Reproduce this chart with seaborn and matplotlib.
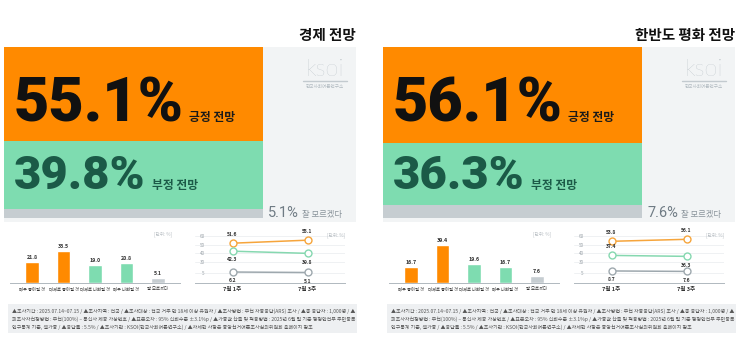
import numpy as np
import pandas as pd
import matplotlib
matplotlib.use("Agg")
import matplotlib.pyplot as plt
import seaborn as sns
from matplotlib.patches import Rectangle
from matplotlib.lines import Line2D

# ---------------- data ----------------
panel_titles = ["경제 전망", "한반도 평화 전망"]
summary_labels = ["긍정 전망", "부정 전망", "잘 모르겠다"]
summary_left = [55.1, 39.8, 5.1]
summary_right = [56.1, 36.3, 7.6]

bar_categories = ["매우 좋아질 것", "대체로 좋아질 것", "대체로 나빠질 것", "매우 나빠질 것", "잘 모르겠다"]
bars_left = [21.8, 33.5, 19.0, 20.8, 5.1]
bars_right = [16.7, 39.4, 19.6, 16.7, 7.6]

weeks = ["7월 1주", "7월 3주"]
trend_left_pos = [51.6, 55.1]
trend_left_neg = [42.3, 39.8]
trend_left_dk = [6.2, 5.1]
trend_right_pos = [53.8, 56.1]
trend_right_neg = [37.4, 36.3]
trend_right_dk = [8.7, 7.6]
trend_yticks = [5, 30, 40, 50, 60]

unit_label = "[단위: %]"
logo_text = "ksoi"
logo_sub = "한국사회여론연구소"
footnote_lines = [
    "▲조사기간 : 2025.07.14~07.15 / ▲조사지역 : 전국 / ▲조사대상 : 전국 거주 만 18세 이상 유권자 / ▲조사방법 : 무선 자동응답(ARS) 조사 / ▲총 응답자 : 1,000명 / ▲",
    "피조사자선정방법 : 무선(100%) – 통신사 제공 가상번호 / ▲표본오차 : 95% 신뢰수준 ±3.1%p / ▲가중값 산출 및 적용방법 : 2025년 6월 말 기준 행정안전부 주민등록",
    "인구통계 기준, 셀가중 / ▲응답률 : 5.5% / ▲조사기관 : KSOI(한국사회여론연구소) / ▲자세한 사항은 중앙선거여론조사심의위원회 홈페이지 참조",
]

# ---------------- style ----------------
ORANGE = "#ff8a00"
GREEN = "#7edcb0"
GRAY = "#c6cdd1"
DKGREEN = "#1b5a47"
LINE_ORANGE = "#f6a53c"
LINE_GREEN = "#86d8b0"
LINE_GRAY = "#9ea8ae"
PANEL_BG = "#f2f4f5"
NOTE_BG = "#eef0f2"

sns.set_theme(style="white")
plt.rcParams["font.family"] = ["Noto Sans CJK KR", "DejaVu Sans"]
KR = ["Noto Sans CJK KR", "DejaVu Sans"]
NUM = ["Roboto", "Noto Sans CJK KR", "DejaVu Sans"]

W, H = 750, 343
fig = plt.figure(figsize=(7.5, 3.43), dpi=100)
fig.patch.set_facecolor("white")
renderer = fig.canvas.get_renderer()


def px_ax(x0, y0, x1, y1):
    return fig.add_axes([x0 / W, 1 - y1 / H, (x1 - x0) / W, (y1 - y0) / H])


def fx(x):
    return x / W


def fy(y):
    return 1 - y / H


def fwd(v):
    v = np.asarray(v, dtype=float)
    return np.where(v >= 30, v, 30 - (30 - v) * 0.5)


def inv(t):
    t = np.asarray(t, dtype=float)
    return np.where(t >= 30, t, 30 - (30 - t) / 0.5)


panels = [
    dict(ox=0, title=panel_titles[0], summary=summary_left, bars=bars_left,
         trend=[trend_left_pos, trend_left_neg, trend_left_dk],
         sides=[[1, 1], [-1, -1], [-1, -1]]),
    dict(ox=379, title=panel_titles[1], summary=summary_right, bars=bars_right,
         trend=[trend_right_pos, trend_right_neg, trend_right_dk],
         sides=[[1, 1], [1, -1], [-1, -1]]),
]

for p in panels:
    ox = p["ox"]
    # title
    fig.text(fx(356 + ox), fy(35), p["title"], ha="right", va="center",
             fontsize=10.5, fontweight="bold", color="#111111", family=KR)
    # panel background
    fig.add_artist(Rectangle((fx(4 + ox), fy(222)), 352 / W, (222 - 47) / H,
                             transform=fig.transFigure, facecolor=PANEL_BG,
                             edgecolor="none", zorder=0))
    # logo
    fig.text(fx(325 + ox), fy(70), logo_text, ha="center", va="center",
             fontsize=17, color="#b3bcc2", family=["Lato", "DejaVu Sans"],
             fontweight="light")
    fig.add_artist(Line2D([fx(303 + ox), fx(347 + ox)], [fy(81), fy(81)],
                          transform=fig.transFigure, color="#c3cacf", lw=1))
    fig.text(fx(325 + ox), fy(87), logo_sub, ha="center", va="center",
             fontsize=3.3, color="#b3bcc2", family=KR)

    # stacked summary boxes
    ax = px_ax(4 + ox, 47, 263 + ox, 218)
    cum = 0
    for v, c in zip(p["summary"], [ORANGE, GREEN, GRAY]):
        ax.bar(0, v, bottom=cum, width=1, color=c, edgecolor="none")
        cum += v
    ax.set_xlim(-0.5, 0.5)
    ax.set_ylim(100, 0)
    ax.axis("off")

    s_pos, s_neg, s_dk = p["summary"]
    t1 = fig.text(fx(14 + ox), fy(121), f"{s_pos:.1f}%", ha="left", va="baseline",
                  fontsize=44, fontweight="heavy", color="#111111", family=NUM)
    bb = t1.get_window_extent(renderer=renderer)
    fig.text((bb.x1 + 5) / W, fy(121), summary_labels[0], ha="left", va="baseline",
             fontsize=8.5, fontweight="bold", color="#1a1a1a", family=KR)
    t2 = fig.text(fx(14 + ox), fy(189), f"{s_neg:.1f}%", ha="left", va="baseline",
                  fontsize=34, fontweight="heavy", color=DKGREEN, family=NUM)
    bb = t2.get_window_extent(renderer=renderer)
    fig.text((bb.x1 + 6) / W, fy(189), summary_labels[1], ha="left", va="baseline",
             fontsize=8.5, fontweight="bold", color=DKGREEN, family=KR)
    t3 = fig.text(fx(268 + ox), fy(217), f"{s_dk:.1f}%", ha="left", va="baseline",
                  fontsize=10.5, color="#6f7b84", family=NUM)
    bb = t3.get_window_extent(renderer=renderer)
    fig.text((bb.x1 + 3) / W, fy(217), summary_labels[2], ha="left", va="baseline",
             fontsize=6, color="#8a949b", family=KR)

    # bar chart
    axb = px_ax(10 + ox, 236, 180 + ox, 283)
    sns.barplot(x=bar_categories, y=p["bars"], hue=bar_categories,
                palette=[ORANGE, ORANGE, GREEN, GREEN, GRAY], legend=False,
                width=0.42, saturation=1, ax=axb)
    axb.set_xlim(-0.7, 4.7)
    axb.set_ylim(0, 49)
    axb.set_facecolor("white")
    for c in axb.containers:
        axb.bar_label(c, fmt="%.1f", fontsize=3.8, fontweight="bold",
                      padding=1.5, color="#333333")
    axb.set_yticks([])
    axb.set_ylabel("")
    axb.set_xticks(range(len(bar_categories)))
    axb.set_xticklabels(bar_categories, fontsize=3.1, color="#333333")
    axb.set_xticks([0.5, 1.5, 2.5, 3.5], minor=True)
    axb.tick_params(axis="x", which="major", length=0, pad=2.5)
    axb.tick_params(axis="x", which="minor", length=2.5, width=0.6,
                    color="#b0b8be", direction="out")
    for s in ["left", "right", "top"]:
        axb.spines[s].set_visible(False)
    axb.spines["bottom"].set_color("#b0b8be")
    axb.spines["bottom"].set_linewidth(0.7)
    fig.text(fx(172 + ox), fy(234), unit_label, ha="right", va="center",
             fontsize=3.3, color="#b8bec3", family=KR)

    # trend line chart
    axl = px_ax(195 + ox, 232, 345 + ox, 283)
    axl.set_facecolor("white")
    axl.set_yscale("function", functions=(fwd, inv))
    xs = np.arange(len(weeks))
    for vals, col, side in zip(p["trend"], [LINE_ORANGE, LINE_GREEN, LINE_GRAY], p["sides"]):
        sns.lineplot(x=xs, y=vals, color=col, marker="o", markersize=5,
                     markerfacecolor="white", markeredgecolor=col,
                     markeredgewidth=1, linewidth=1.1, ax=axl, zorder=3)
        for i, v in enumerate(vals):
            axl.annotate(f"{v:.1f}", (xs[i], v), xytext=(0, 4.5 * side[i]),
                         textcoords="offset points", ha="center",
                         va="bottom" if side[i] > 0 else "top",
                         fontsize=3.6, fontweight="bold", color="#333333")
    axl.set_xlim(-0.5, 1.5)
    axl.set_ylim(-19.3, 64.6)
    axl.set_yticks(trend_yticks)
    axl.set_yticklabels([str(t) for t in trend_yticks], fontsize=3.3, color="#9aa2a8")
    axl.tick_params(axis="y", length=0, pad=-7)
    axl.yaxis.grid(True, color="#eceff1", lw=0.6)
    axl.xaxis.grid(False)
    axl.set_xticks(xs)
    axl.set_xticklabels(weeks, fontsize=4, fontweight="bold", color="#333333")
    axl.set_xticks([-0.5, 0.5, 1.5], minor=True)
    axl.tick_params(axis="x", which="major", length=0, pad=3)
    axl.tick_params(axis="x", which="minor", length=2.5, width=0.6,
                    color="#b0b8be", direction="out")
    for s in ["left", "right", "top"]:
        axl.spines[s].set_visible(False)
    axl.spines["bottom"].set_color("#b0b8be")
    axl.spines["bottom"].set_linewidth(0.7)
    axl.set_ylabel("")
    fig.text(fx(345 + ox), fy(235), unit_label, ha="right", va="center",
             fontsize=3.3, color="#b8bec3", family=KR)

    # footnote box
    fig.add_artist(Rectangle((fx(8 + ox), fy(333)), 349 / W, (333 - 304) / H,
                             transform=fig.transFigure, facecolor=NOTE_BG,
                             edgecolor="none", zorder=0))
    for k, line in enumerate(footnote_lines):
        fig.text(fx(12 + ox), fy(311 + 8 * k), line, ha="left", va="center",
                 fontsize=3.6, color="#555555", family=KR)

fig.savefig("out.png", dpi=100)
